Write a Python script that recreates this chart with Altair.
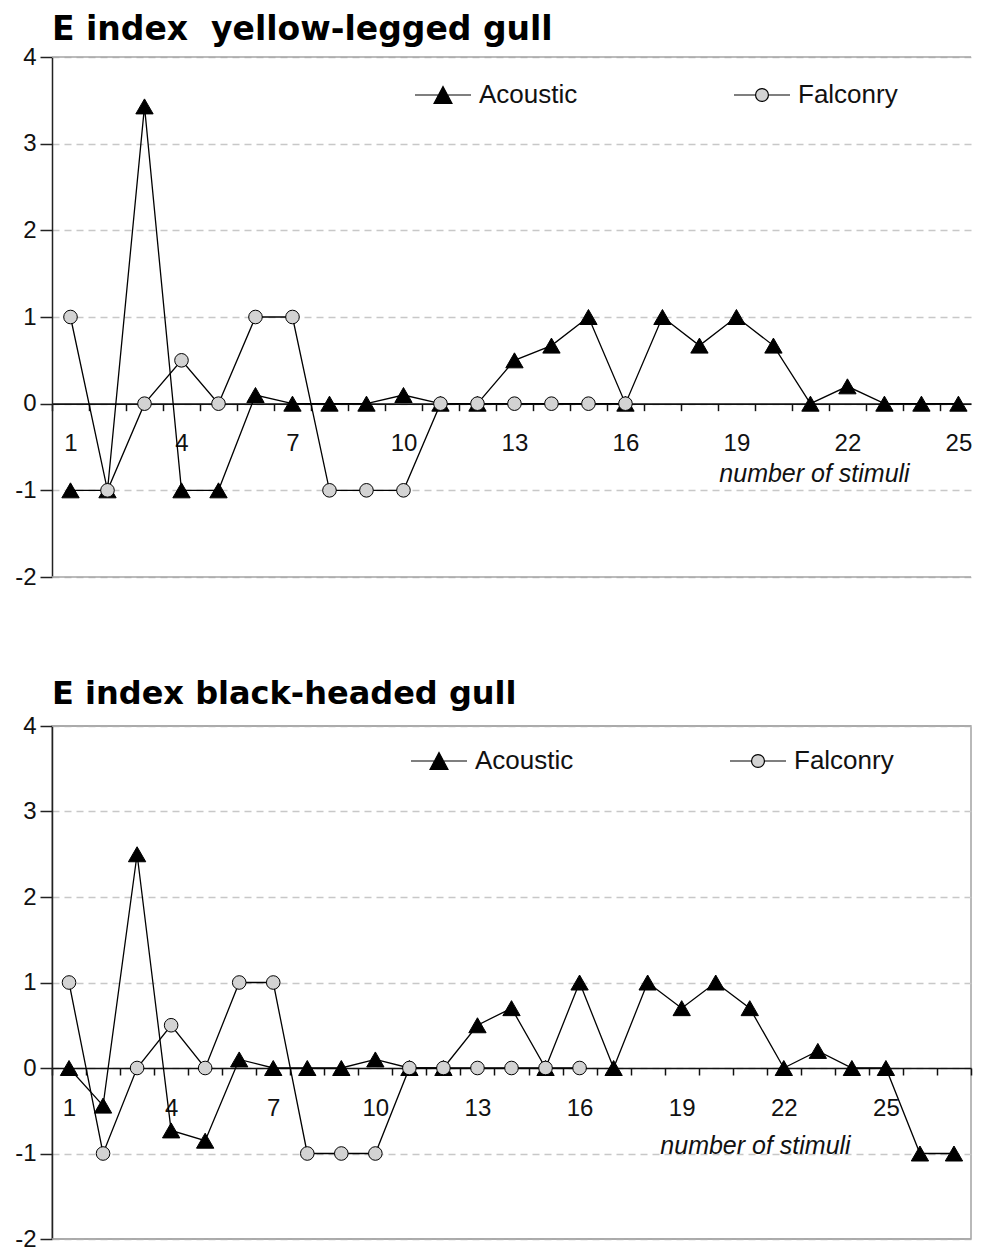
import altair as alt
import pandas as pd

# ---------------- data ----------------
series_names = ["Acoustic", "Falconry"]

stimuli_top = list(range(1, 26))
acoustic_top = [-1, -1, 3.43, -1, -1, 0.1, 0, 0, 0, 0.1, 0, 0, 0.5, 0.67, 1,
                0, 1, 0.67, 1, 0.67, 0, 0.2, 0, 0, 0]
stimuli_falconry = list(range(1, 17))
falconry_top = [1, -1, 0, 0.5, 0, 1, 1, -1, -1, -1, 0, 0, 0, 0, 0, 0]

stimuli_bottom = list(range(1, 28))
acoustic_bottom = [0, -0.44, 2.5, -0.73, -0.85, 0.1, 0, 0, 0, 0.1, 0, 0, 0.5, 0.7,
                   0, 1, 0, 1, 0.7, 1, 0.7, 0, 0.2, 0, 0, -1, -1]
falconry_bottom = [1, -1, 0, 0.5, 0, 1, 1, -1, -1, -1, 0, 0, 0, 0, 0, 0]

y_tick_values = [-2, -1, 0, 1, 2, 3, 4]
x_label_values = [1, 4, 7, 10, 13, 16, 19, 22, 25]
frame_values = [4, -2]

title_top = "E index\u00a0 yellow-legged gull"
title_bottom = "E index black-headed gull"
x_title = "number of stimuli"

FONT = "Liberation Sans"
TITLE_FONT = "DejaVu Sans"

TRI_PATH = "M-1,0H1M0,-0.3L0.32,0.3L-0.32,0.3Z"
CIRC_PATH = ("M-1,0H-0.23M0.23,0H1M-0.23,0A0.23,0.23 0 1,0 0.23,0"
             "A0.23,0.23 0 1,0 -0.23,0Z")


def make_df(xs_a, ys_a, xs_f, ys_f):
    rows = [{"series": "Acoustic", "x": x, "y": y} for x, y in zip(xs_a, ys_a)]
    rows += [{"series": "Falconry", "x": x, "y": y} for x, y in zip(xs_f, ys_f)]
    return pd.DataFrame(rows)


def panel(title, title_size, title_offset, df, n_cat, x_max, width, height,
          legend_x, legend_y, title_x, title_y, framed):
    xscale = alt.Scale(domain=[0.5, x_max], nice=False, zero=False)
    yscale = alt.Scale(domain=[-2, 4], nice=False, zero=False)
    zero_offset = -height * 2.0 / 6.0
    tick_vals = [i + 0.5 for i in range(n_cat + 1) if i + 0.5 <= x_max]

    y_axis = alt.Axis(values=y_tick_values, title=None, labelExpr="'' + datum.value",
                      tickSize=12, tickWidth=1.5, tickColor="#222",
                      domainColor="#222", domainWidth=1.5,
                      labelFontSize=24, labelFont=FONT, labelColor="#111",
                      labelPadding=4, grid=True, gridDash=[7, 5],
                      gridColor="#c8c8c8", gridWidth=1.3)

    tick_axis = alt.Axis(orient="bottom", offset=zero_offset, values=tick_vals,
                         labels=False, title=None, grid=False,
                         tickSize=7, tickWidth=1.5, tickColor="#111",
                         domainColor="#111", domainWidth=1.6)

    label_axis = alt.Axis(orient="bottom", offset=zero_offset, values=x_label_values,
                          ticks=False, tickSize=0, domain=False, grid=False,
                          labelFontSize=24, labelFont=FONT, labelColor="#111",
                          labelPadding=47, labelBaseline="alphabetic",
                          labelFlush=False, labelOverlap=False,
                          title=x_title, titleX=title_x, titleY=title_y,
                          titleAlign="center", titleBaseline="middle",
                          titleFont=FONT, titleFontSize=25, titleFontStyle="italic",
                          titleFontWeight="normal", titleColor="#111")

    frame = alt.Chart(pd.DataFrame({"v": frame_values})).mark_rule(
        color="#a4a4a4", strokeWidth=1.6
    ).encode(y=alt.Y("v:Q", scale=yscale, axis=y_axis))

    lines = alt.Chart(df).mark_line(color="black", strokeWidth=1.3).encode(
        x=alt.X("x:Q", scale=xscale, axis=tick_axis),
        y=alt.Y("y:Q", scale=yscale),
        detail="series:N",
    )

    points = alt.Chart(df).mark_point(filled=True, stroke="black", strokeWidth=1,
                                      opacity=1).encode(
        x=alt.X("x:Q", scale=xscale, axis=None),
        y=alt.Y("y:Q", scale=yscale),
        shape=alt.Shape("series:N", scale=alt.Scale(domain=series_names,
                        range=["triangle-up", "circle"]), legend=None),
        fill=alt.Fill("series:N", scale=alt.Scale(domain=series_names,
                      range=["black", "#d3d3d3"]), legend=None),
        size=alt.Size("series:N", scale=alt.Scale(domain=series_names,
                      range=[300, 185]), legend=None),
    )

    legend = alt.Legend(orient="none", legendX=legend_x, legendY=legend_y,
                        direction="horizontal", title=None, padding=0,
                        symbolSize=3136, symbolStrokeWidth=1.2, symbolOpacity=1,
                        labelFont=FONT, labelFontSize=26, labelColor="#111",
                        labelOffset=7, columnPadding=153)

    legend_layer = alt.Chart(df).transform_filter("datum.x < -100").mark_point(
        filled=True, strokeWidth=1.2, opacity=1
    ).encode(
        x=alt.X("x:Q", scale=xscale, axis=label_axis),
        y=alt.Y("y:Q", scale=yscale),
        shape=alt.Shape("series:N", scale=alt.Scale(domain=series_names,
                        range=[TRI_PATH, CIRC_PATH]), legend=legend),
        fill=alt.Fill("series:N", scale=alt.Scale(domain=series_names,
                      range=["black", "#d3d3d3"]), legend=legend),
        stroke=alt.Stroke("series:N", scale=alt.Scale(domain=series_names,
                          range=["black", "black"]), legend=legend),
    )

    view = (alt.ViewBackground(stroke="#a8a8a8", strokeWidth=1.6) if framed
            else alt.ViewBackground(stroke=None))

    return alt.layer(frame, lines, points, legend_layer).resolve_scale(
        shape="independent", fill="independent", size="independent",
        stroke="independent"
    ).resolve_axis(x="independent").properties(
        width=width, height=height, view=view,
        title=alt.TitleParams(title, anchor="start", frame="group",
                              fontSize=title_size, font=TITLE_FONT,
                              fontWeight="bold", color="black",
                              baseline="alphabetic", offset=title_offset),
    )


df_top = make_df(stimuli_top, acoustic_top, stimuli_falconry, falconry_top)
df_bottom = make_df(stimuli_bottom, acoustic_bottom, stimuli_falconry, falconry_bottom)

top = panel(title_top, 33, -28, df_top, 25, 25.34, 919, 520,
            362, 9, 762, 70, False)
bottom = panel(title_bottom, 32, -22, df_bottom, 27, 27.5, 919, 513,
               358, 6, 703, 77, True)

chart = alt.vconcat(top, bottom, spacing=88).resolve_legend(
    shape="independent", fill="independent", stroke="independent"
).properties(
    padding={"left": 5, "top": 6, "right": 0, "bottom": 0}
).configure_view(stroke=None)

chart.save("out.html", embed_options={"renderer": "svg", "actions": False})
